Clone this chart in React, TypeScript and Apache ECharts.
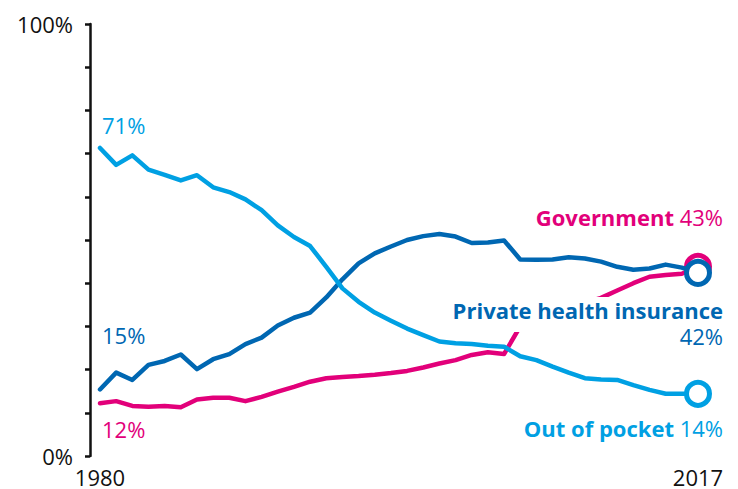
import React, { useEffect, useRef } from "react";
import * as echarts from "echarts";

const years = [
  "1980", "1981", "1982", "1983", "1984", "1985", "1986", "1987", "1988", "1989",
  "1990", "1991", "1992", "1993", "1994", "1995", "1996", "1997", "1998", "1999",
  "2000", "2001", "2002", "2003", "2004", "2005", "2006", "2007", "2008", "2009",
  "2010", "2011", "2012", "2013", "2014", "2015", "2016", "2017",
];

const outOfPocket = [
  71.3, 67.4, 69.6, 66.3, 65.1, 63.8, 65.0, 62.2, 61.1, 59.4,
  56.9, 53.4, 50.7, 48.6, 43.8, 38.8, 35.7, 33.2, 31.3, 29.5,
  28.0, 26.5, 26.1, 25.9, 25.5, 25.3, 23.1, 22.2, 20.7, 19.3,
  18.0, 17.7, 17.6, 16.4, 15.3, 14.4, 14.4, 14.4,
];

const privateInsurance = [
  15.4, 19.3, 17.6, 21.1, 22.0, 23.5, 20.1, 22.4, 23.6, 25.9,
  27.4, 30.2, 32.0, 33.2, 36.7, 40.9, 44.6, 46.9, 48.5, 50.0,
  50.9, 51.4, 50.8, 49.3, 49.4, 49.9, 45.5, 45.4, 45.5, 46.0,
  45.7, 45.0, 43.8, 43.1, 43.4, 44.3, 43.6, 42.4,
];

const government = [
  12.2, 12.7, 11.6, 11.4, 11.6, 11.3, 13.1, 13.5, 13.5, 12.7,
  13.7, 14.9, 16.0, 17.2, 18.0, 18.3, 18.5, 18.8, 19.2, 19.7,
  20.5, 21.4, 22.2, 23.4, 24.0, 23.6, 30.0, 31.5, 33.0, 34.5,
  35.5, 36.6, 38.3, 40.0, 41.5, 41.9, 42.2, 43.8,
];

const seriesNames = ["Government", "Private health insurance", "Out of pocket"];
const startLabels = ["12%", "15%", "71%"];
const endLabels = ["43%", "42%", "14%"];
const yTickLabels = [0, 100];

const PINK = "#e2007a";
const DARK = "#0067b2";
const LIGHT = "#00a0e3";
const FONT = "Open Sans";

function buildData(values: number[], color: string) {
  return values.map((v, i) =>
    i === values.length - 1
      ? {
          value: v,
          symbol: "circle",
          symbolSize: 23,
          itemStyle: { color: "#ffffff", borderColor: color, borderWidth: 5 },
        }
      : v
  );
}

function lineSeries(name: string, values: number[], color: string, z: number) {
  return {
    name,
    type: "line",
    data: buildData(values, color),
    symbol: "none",
    showSymbol: true,
    z,
    lineStyle: { color, width: 4.5, cap: "round", join: "round" },
    itemStyle: { color },
    emphasis: { disabled: true },
  };
}

export default function App() {
  const ref = useRef<HTMLDivElement>(null);

  useEffect(() => {
    if (!ref.current) return;
    const chart = echarts.init(ref.current, undefined, { renderer: "svg" });
    const last = years.length - 1;
    const txt = (text: string, x: number, y: number, fill: string, align: string, weight = "normal") => ({
      type: "text",
      z: 100,
      style: {
        text,
        x,
        y,
        fill,
        fontFamily: FONT,
        fontSize: 22,
        fontWeight: weight,
        align,
        verticalAlign: "middle",
      },
    });
    const rich = (bold: string, reg: string, x: number, y: number, fill: string) => ({
      type: "text",
      z: 100,
      style: {
        text: `{b|${bold}} {r|${reg}}`,
        x,
        y,
        align: "right",
        verticalAlign: "middle",
        fontFamily: FONT,
        fontSize: 22,
        fill,
        rich: {
          b: { fontFamily: FONT, fontSize: 22, fontWeight: "bold", fill },
          r: { fontFamily: FONT, fontSize: 22, fontWeight: "normal", fill },
        },
      },
    });
    chart.setOption({
      animation: false,
      grid: { left: 100, right: 40, top: 24, bottom: 33 },
      xAxis: {
        type: "category",
        data: years,
        boundaryGap: false,
        axisLine: { show: false },
        axisTick: { show: false },
        axisLabel: {
          interval: (i: number) => i === 0 || i === last,
          color: "#111",
          fontFamily: FONT,
          fontSize: 22,
          margin: 10,
        },
        splitLine: { show: false },
      },
      yAxis: {
        type: "value",
        min: 0,
        max: 100,
        interval: 10,
        offset: 10,
        axisLine: { show: true, lineStyle: { color: "#111", width: 2.5 } },
        axisTick: { show: true, length: 5, lineStyle: { color: "#111", width: 2.5 } },
        axisLabel: {
          formatter: (v: number) => (yTickLabels.includes(v) ? `${v}%` : ""),
          color: "#111",
          fontFamily: FONT,
          fontSize: 22,
          margin: 17,
        },
        splitLine: { show: false },
      },
      series: [
        lineSeries(seriesNames[0], government, PINK, 2),
        lineSeries(seriesNames[1], privateInsurance, DARK, 3),
        lineSeries(seriesNames[2], outOfPocket, LIGHT, 4),
      ],
      graphic: [
        { type: "rect", z: 90, shape: { x: 455, y: 297, width: 272, height: 35 }, style: { fill: "#ffffff" } },
        txt(startLabels[2], 102, 125, LIGHT, "left"),
        txt(startLabels[1], 102, 335, DARK, "left"),
        txt(startLabels[0], 102, 429, PINK, "left"),
        rich(seriesNames[0], endLabels[0], 723, 217, PINK),
        txt(seriesNames[1], 723, 310, DARK, "right", "bold"),
        txt(endLabels[1], 723, 336, DARK, "right"),
        rich(seriesNames[2], endLabels[2], 723, 428, LIGHT),
      ],
    });
    return () => chart.dispose();
  }, []);

  return (
    <div
      ref={ref}
      style={{ position: "fixed", left: 0, top: 0, width: 738, height: 489, background: "#fff" }}
    />
  );
}
